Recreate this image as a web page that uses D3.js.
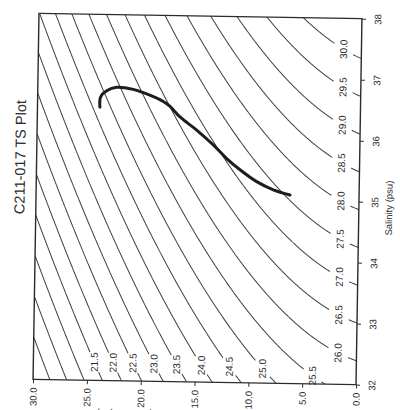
<!DOCTYPE html>
<html><head><meta charset="utf-8">
<script src="https://cdn.jsdelivr.net/npm/d3@7"></script>
<style>
html,body{margin:0;padding:0;background:#fff;}
svg{display:block;}
text{font-family:"Liberation Sans",Arial,sans-serif;fill:#2a2a2a;}
</style></head><body>
<svg id="chart" width="400" height="410"></svg>
<script>
// ---- chart data ----
const titleText = "C211-017 TS Plot";
const salinityLabel = "Salinity (psu)";
const temperatureLabel = "Temperature (°C)";
const salinityTicks = [32, 33, 34, 35, 36, 37, 38];
const temperatureTicks = [30, 25, 20, 15, 10, 5, 0];
const sigmaLevels = [19.5, 20.0, 20.5, 21.0, 21.5, 22.0, 22.5, 23.0, 23.5, 24.0, 24.5, 25.0,
                     25.5, 26.0, 26.5, 27.0, 27.5, 28.0, 28.5, 29.0, 29.5, 30.0];
const labeledLevels = [21.5, 22.0, 22.5, 23.0, 23.5, 24.0, 24.5, 25.0, 25.5,
                       26.0, 26.5, 27.0, 27.5, 28.0, 28.5, 29.0, 29.5, 30.0];
// TS profile
const tsSalinity   = [36.48, 36.65, 36.75, 36.81, 36.78, 36.71, 36.59, 36.51, 36.34, 36.13, 35.89, 35.67, 35.49, 35.30, 35.17, 35.09];
const tsTemperature = [24.20, 24.15, 23.60, 22.67, 21.13, 19.88, 18.32, 17.69, 16.75, 15.18, 13.61, 12.35, 11.10, 9.53, 7.97, 6.41];
// UNESCO EOS-80 (surface) coefficients for sigma-t
const rhoWaterCoef = [999.842594, 6.793952e-2, -9.095290e-3, 1.001685e-4, -1.120083e-6, 6.536332e-9];
const coefA = [8.24493e-1, -4.0899e-3, 7.6438e-5, -8.2467e-7, 5.3875e-9];
const coefB = [-5.72466e-3, 1.0227e-4, -1.6546e-6];
const coefC = 4.8314e-4;

// ---- helpers ----
const poly = (c, t) => c.reduce((s, v, i) => s + v * Math.pow(t, i), 0);
function sigmaT(S, T) {
  return poly(rhoWaterCoef, T) + S * poly(coefA, T) + Math.pow(S, 1.5) * poly(coefB, T) + coefC * S * S - 1000;
}
function solveS(level, T) {
  let lo = 20, hi = 45;
  for (let k = 0; k < 50; k++) {
    const m = (lo + hi) / 2;
    if (sigmaT(m, T) < level) lo = m; else hi = m;
  }
  return (lo + hi) / 2;
}
function isoline(level) {
  const pts = [];
  for (let i = 0; i <= 600; i++) { const t = i * 0.05; pts.push([t, solveS(level, t)]); }
  return pts;
}

const svg = d3.select("#chart");
const g = svg.append("g").attr("transform", "rotate(0.93 197.5 199)");

const x = d3.scaleLinear().domain([30, 0]).range([36, 359]);
const y = d3.scaleLinear().domain([32, 38]).range([382, 16]);
const [x0, x1] = x.range();
const [y1, y0] = y.range();

const defs = svg.append("defs");
defs.append("clipPath").attr("id", "frameClip")
  .append("rect").attr("x", x0).attr("y", y0).attr("width", x1 - x0).attr("height", y1 - y0);

const line = d3.line().x(d => x(d[0])).y(d => y(d[1]));

const lines = sigmaLevels.map(l => ({ level: l, pts: isoline(l) }));

function labelPoint(pts, dist) {
  const px = pts.map(d => [x(d[0]), y(d[1])]);
  const inside = p => p[0] >= x0 - 0.01 && p[0] <= x1 + 0.01 && p[1] >= y0 - 0.01 && p[1] <= y1 + 0.01;
  let i = 0;
  while (i < px.length && !inside(px[i])) i++;
  if (i >= px.length) return null;
  let start;
  if (i === 0) start = px[0];
  else {
    const a = px[i - 1], b = px[i];
    const f = (a[1] - y1) / (a[1] - b[1]);
    start = [a[0] + (b[0] - a[0]) * f, y1];
  }
  let acc = 0, prev = start;
  for (let j = i; j < px.length; j++) {
    const p = px[j];
    const seg = Math.hypot(p[0] - prev[0], p[1] - prev[1]);
    if (acc + seg >= dist) {
      const f = (dist - acc) / seg;
      return [prev[0] + (p[0] - prev[0]) * f, prev[1] + (p[1] - prev[1]) * f];
    }
    acc += seg; prev = p;
  }
  return null;
}

const labels = lines.filter(d => labeledLevels.includes(d.level))
  .map(d => ({ level: d.level, p: labelPoint(d.pts, d.level === 25.5 ? 15 : 20) }))
  .filter(d => d.p);

const mask = defs.append("mask").attr("id", "gapMask")
  .attr("maskUnits", "userSpaceOnUse").attr("x", -50).attr("y", -50).attr("width", 500).attr("height", 510);
mask.append("rect").attr("x", -50).attr("y", -50).attr("width", 500).attr("height", 510).attr("fill", "#fff");
mask.selectAll("circle").data(labels).join("circle")
  .attr("cx", d => d.p[0]).attr("cy", d => d.p[1]).attr("r", 11).attr("fill", "#000");

// contour lines
g.append("g").attr("clip-path", "url(#frameClip)")
  .append("g").attr("mask", "url(#gapMask)")
  .selectAll("path").data(lines).join("path")
  .attr("d", d => line(d.pts))
  .attr("fill", "none").attr("stroke", "#404040").attr("stroke-width", 1);

// contour labels
g.append("g").selectAll("text").data(labels).join("text")
  .attr("transform", d => `translate(${d.p[0]},${d.p[1]}) rotate(-90)`)
  .attr("text-anchor", "middle").attr("dy", "0.35em")
  .style("font-size", "10px")
  .text(d => d3.format(".1f")(d.level));

// TS profile
g.append("path")
  .datum(tsTemperature.map((t, i) => [t, tsSalinity[i]]))
  .attr("d", d3.line().x(d => x(d[0])).y(d => y(d[1])).curve(d3.curveCatmullRom))
  .attr("fill", "none").attr("stroke", "#1c1c1c").attr("stroke-width", 3)
  .attr("stroke-linecap", "round").attr("stroke-linejoin", "round");

// frame
g.append("rect").attr("x", x0).attr("y", y0).attr("width", x1 - x0).attr("height", y1 - y0)
  .attr("fill", "none").attr("stroke", "#2b2b2b").attr("stroke-width", 1.4);

// temperature axis (bottom)
const ax = g.append("g").attr("transform", `translate(0,${y1})`)
  .call(d3.axisBottom(x).tickValues(temperatureTicks).tickSize(4).tickSizeOuter(0).tickFormat(d3.format(".1f")));
ax.select(".domain").remove();
ax.selectAll("line").attr("stroke", "#2b2b2b");
ax.selectAll("text")
  .attr("transform", "rotate(-90)").attr("x", -8).attr("y", 0).attr("dy", "0.35em")
  .attr("text-anchor", "end").style("font-size", "9.5px").attr("fill", "#2a2a2a");

// salinity axis (right)
const ay = g.append("g").attr("transform", `translate(${x1},0)`)
  .call(d3.axisRight(y).tickValues(salinityTicks).tickSize(4).tickSizeOuter(0).tickFormat(d3.format("d")));
ay.select(".domain").remove();
ay.selectAll("line").attr("stroke", "#2b2b2b");
ay.selectAll("text")
  .attr("transform", "translate(16,0) rotate(-90)").attr("x", 0).attr("y", 0).attr("dy", "0.35em")
  .attr("text-anchor", "middle").style("font-size", "9.5px").attr("fill", "#2a2a2a");

// titles
g.append("text").attr("transform", "translate(19.5,160) rotate(-90)")
  .attr("text-anchor", "middle").attr("dy", "0.35em").style("font-size", "14.5px").text(titleText);
g.append("text").attr("transform", "translate(389,205) rotate(-90)")
  .attr("text-anchor", "middle").attr("dy", "0.35em").style("font-size", "9.5px").text(salinityLabel);
// temperature axis title: in the reference it sits upside-down at the bottom edge, mostly cut off
g.append("text").attr("transform", "translate(100,412) rotate(180)")
  .attr("text-anchor", "end").style("font-size", "9.5px").text(temperatureLabel);
</script>
</body></html>
